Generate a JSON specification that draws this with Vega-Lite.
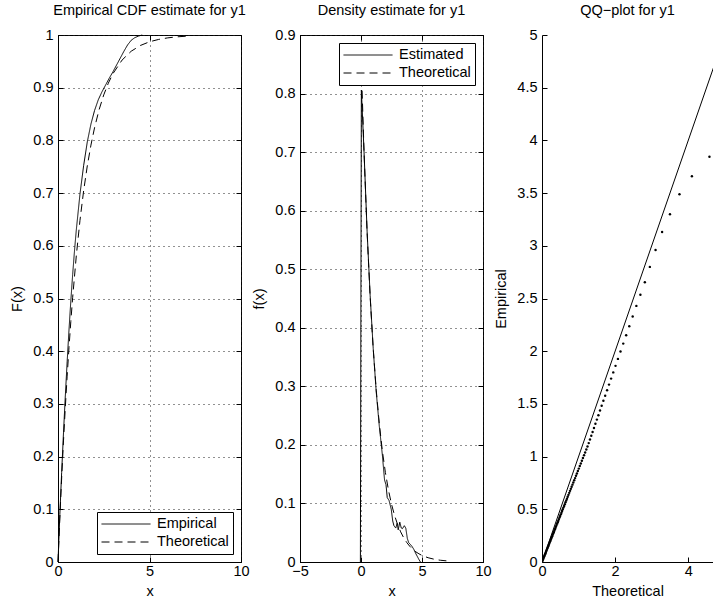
{
  "$schema": "https://vega.github.io/schema/vega-lite/v6.json",
  "padding": {"left": 9, "top": 2, "right": 0, "bottom": 0},
  "background": "white",
  "spacing": 59,
  "bounds": "flush",
  "datasets": {
    "cdf": [
      {"s": "Empirical", "x": 0, "F": 0}, {"s": "Empirical", "x": 0.1, "F": 0.09}, {"s": "Empirical", "x": 0.2, "F": 0.17},
      {"s": "Empirical", "x": 0.3, "F": 0.245}, {"s": "Empirical", "x": 0.4, "F": 0.315}, {"s": "Empirical", "x": 0.5, "F": 0.38},
      {"s": "Empirical", "x": 0.6, "F": 0.44}, {"s": "Empirical", "x": 0.7, "F": 0.495}, {"s": "Empirical", "x": 0.8, "F": 0.545},
      {"s": "Empirical", "x": 0.9, "F": 0.59}, {"s": "Empirical", "x": 1.0, "F": 0.63}, {"s": "Empirical", "x": 1.2, "F": 0.698},
      {"s": "Empirical", "x": 1.4, "F": 0.752}, {"s": "Empirical", "x": 1.6, "F": 0.797}, {"s": "Empirical", "x": 1.8, "F": 0.831},
      {"s": "Empirical", "x": 2.0, "F": 0.857}, {"s": "Empirical", "x": 2.2, "F": 0.877}, {"s": "Empirical", "x": 2.4, "F": 0.892},
      {"s": "Empirical", "x": 2.6, "F": 0.905}, {"s": "Empirical", "x": 2.8, "F": 0.918}, {"s": "Empirical", "x": 3.0, "F": 0.93},
      {"s": "Empirical", "x": 3.2, "F": 0.943}, {"s": "Empirical", "x": 3.4, "F": 0.956}, {"s": "Empirical", "x": 3.6, "F": 0.969},
      {"s": "Empirical", "x": 3.8, "F": 0.981}, {"s": "Empirical", "x": 4.0, "F": 0.99}, {"s": "Empirical", "x": 4.2, "F": 0.995},
      {"s": "Empirical", "x": 4.4, "F": 0.998}, {"s": "Empirical", "x": 4.6, "F": 1.0},
      {"s": "Theoretical", "x": 0, "F": 0}, {"s": "Theoretical", "x": 0.1, "F": 0.0833}, {"s": "Theoretical", "x": 0.2, "F": 0.1597},
      {"s": "Theoretical", "x": 0.3, "F": 0.2297}, {"s": "Theoretical", "x": 0.4, "F": 0.2939}, {"s": "Theoretical", "x": 0.5, "F": 0.3527},
      {"s": "Theoretical", "x": 0.6, "F": 0.4067}, {"s": "Theoretical", "x": 0.7, "F": 0.4561}, {"s": "Theoretical", "x": 0.8, "F": 0.5014},
      {"s": "Theoretical", "x": 1.0, "F": 0.581}, {"s": "Theoretical", "x": 1.2, "F": 0.648}, {"s": "Theoretical", "x": 1.4, "F": 0.7042},
      {"s": "Theoretical", "x": 1.6, "F": 0.7514}, {"s": "Theoretical", "x": 1.8, "F": 0.7911}, {"s": "Theoretical", "x": 2.0, "F": 0.8245},
      {"s": "Theoretical", "x": 2.25, "F": 0.8588}, {"s": "Theoretical", "x": 2.5, "F": 0.8864}, {"s": "Theoretical", "x": 2.75, "F": 0.9086},
      {"s": "Theoretical", "x": 3.0, "F": 0.9265}, {"s": "Theoretical", "x": 3.5, "F": 0.9524}, {"s": "Theoretical", "x": 4.0, "F": 0.9692},
      {"s": "Theoretical", "x": 4.5, "F": 0.9801}, {"s": "Theoretical", "x": 5.0, "F": 0.9871}, {"s": "Theoretical", "x": 5.5, "F": 0.9916},
      {"s": "Theoretical", "x": 6.0, "F": 0.9946}, {"s": "Theoretical", "x": 6.5, "F": 0.9965}, {"s": "Theoretical", "x": 7.0, "F": 0.9977}
    ],
    "dens": [
      {"s": "Estimated", "x": -0.05, "f": 0}, {"s": "Estimated", "x": 0.03, "f": 0.806}, {"s": "Estimated", "x": 0.25, "f": 0.70},
      {"s": "Estimated", "x": 0.5, "f": 0.565}, {"s": "Estimated", "x": 0.75, "f": 0.455}, {"s": "Estimated", "x": 1.0, "f": 0.365},
      {"s": "Estimated", "x": 1.25, "f": 0.29}, {"s": "Estimated", "x": 1.5, "f": 0.232}, {"s": "Estimated", "x": 1.75, "f": 0.183},
      {"s": "Estimated", "x": 1.93, "f": 0.14}, {"s": "Estimated", "x": 2.05, "f": 0.132}, {"s": "Estimated", "x": 2.15, "f": 0.11},
      {"s": "Estimated", "x": 2.3, "f": 0.105}, {"s": "Estimated", "x": 2.48, "f": 0.09}, {"s": "Estimated", "x": 2.6, "f": 0.07},
      {"s": "Estimated", "x": 2.7, "f": 0.062}, {"s": "Estimated", "x": 2.85, "f": 0.058}, {"s": "Estimated", "x": 2.96, "f": 0.066},
      {"s": "Estimated", "x": 3.05, "f": 0.055}, {"s": "Estimated", "x": 3.18, "f": 0.068}, {"s": "Estimated", "x": 3.3, "f": 0.058},
      {"s": "Estimated", "x": 3.4, "f": 0.057}, {"s": "Estimated", "x": 3.55, "f": 0.062}, {"s": "Estimated", "x": 3.67, "f": 0.058},
      {"s": "Estimated", "x": 3.8, "f": 0.04}, {"s": "Estimated", "x": 3.91, "f": 0.033}, {"s": "Estimated", "x": 4.05, "f": 0.03},
      {"s": "Estimated", "x": 4.2, "f": 0.026}, {"s": "Estimated", "x": 4.32, "f": 0.022}, {"s": "Estimated", "x": 4.5, "f": 0.014},
      {"s": "Estimated", "x": 4.73, "f": 0.005}, {"s": "Estimated", "x": 4.87, "f": 0},
      {"s": "Theoretical", "x": 0.09, "f": 0.805}, {"s": "Theoretical", "x": 0.25, "f": 0.70}, {"s": "Theoretical", "x": 0.5, "f": 0.563},
      {"s": "Theoretical", "x": 0.75, "f": 0.453}, {"s": "Theoretical", "x": 1.0, "f": 0.3645}, {"s": "Theoretical", "x": 1.25, "f": 0.2933},
      {"s": "Theoretical", "x": 1.5, "f": 0.236}, {"s": "Theoretical", "x": 1.75, "f": 0.1898}, {"s": "Theoretical", "x": 2.0, "f": 0.1527},
      {"s": "Theoretical", "x": 2.25, "f": 0.1229}, {"s": "Theoretical", "x": 2.5, "f": 0.0988}, {"s": "Theoretical", "x": 2.75, "f": 0.0795},
      {"s": "Theoretical", "x": 3.0, "f": 0.064}, {"s": "Theoretical", "x": 3.25, "f": 0.0515}, {"s": "Theoretical", "x": 3.5, "f": 0.0414},
      {"s": "Theoretical", "x": 3.75, "f": 0.0333}, {"s": "Theoretical", "x": 4.0, "f": 0.0268}, {"s": "Theoretical", "x": 4.25, "f": 0.0216},
      {"s": "Theoretical", "x": 4.5, "f": 0.0173}, {"s": "Theoretical", "x": 4.75, "f": 0.014}, {"s": "Theoretical", "x": 5.0, "f": 0.0112},
      {"s": "Theoretical", "x": 5.5, "f": 0.0073}, {"s": "Theoretical", "x": 6.0, "f": 0.0047}, {"s": "Theoretical", "x": 6.5, "f": 0.003},
      {"s": "Theoretical", "x": 7.0, "f": 0.002}
    ],
    "qqline": [{"t": 0, "e": 0}, {"t": 5, "e": 5}],
    "qq": [
      {"t": 4.58, "e": 3.845}, {"t": 4.10, "e": 3.66}, {"t": 3.76, "e": 3.49}, {"t": 3.50, "e": 3.30}, {"t": 3.285, "e": 3.13},
      {"t": 3.106, "e": 2.96}, {"t": 2.95, "e": 2.80}, {"t": 2.813, "e": 2.655}, {"t": 2.691, "e": 2.535}, {"t": 2.581, "e": 2.43},
      {"t": 2.48, "e": 2.33}, {"t": 2.387, "e": 2.237}, {"t": 2.302, "e": 2.152}, {"t": 2.222, "e": 2.072}, {"t": 2.147, "e": 1.997},
      {"t": 2.077, "e": 1.927}, {"t": 2.011, "e": 1.861}, {"t": 1.949, "e": 1.799}, {"t": 1.89, "e": 1.74}, {"t": 1.833, "e": 1.683},
      {"t": 1.78, "e": 1.63}, {"t": 1.728, "e": 1.578}, {"t": 1.679, "e": 1.529}, {"t": 1.632, "e": 1.482}, {"t": 1.587, "e": 1.437},
      {"t": 1.543, "e": 1.393}, {"t": 1.501, "e": 1.351}, {"t": 1.461, "e": 1.311}, {"t": 1.422, "e": 1.272}, {"t": 1.384, "e": 1.234},
      {"t": 1.348, "e": 1.198}, {"t": 1.312, "e": 1.162}, {"t": 1.278, "e": 1.128}, {"t": 1.244, "e": 1.095}, {"t": 1.212, "e": 1.067},
      {"t": 1.18, "e": 1.038}, {"t": 1.15, "e": 1.012}, {"t": 1.12, "e": 0.986}, {"t": 1.091, "e": 0.96}, {"t": 1.062, "e": 0.935},
      {"t": 1.034, "e": 0.91}, {"t": 1.007, "e": 0.886}, {"t": 0.981, "e": 0.863}, {"t": 0.955, "e": 0.84}, {"t": 0.93, "e": 0.818},
      {"t": 0.905, "e": 0.796}, {"t": 0.881, "e": 0.775}, {"t": 0.857, "e": 0.754}, {"t": 0.834, "e": 0.734}, {"t": 0.811, "e": 0.714},
      {"t": 0.789, "e": 0.694}, {"t": 0.767, "e": 0.675}, {"t": 0.745, "e": 0.656}, {"t": 0.724, "e": 0.637}, {"t": 0.703, "e": 0.619},
      {"t": 0.683, "e": 0.601}, {"t": 0.663, "e": 0.583}, {"t": 0.643, "e": 0.566}, {"t": 0.624, "e": 0.549}, {"t": 0.605, "e": 0.532},
      {"t": 0.586, "e": 0.516}, {"t": 0.568, "e": 0.5}, {"t": 0.549, "e": 0.483}, {"t": 0.532, "e": 0.468}, {"t": 0.514, "e": 0.452},
      {"t": 0.497, "e": 0.437}, {"t": 0.48, "e": 0.422}, {"t": 0.463, "e": 0.407}, {"t": 0.446, "e": 0.392}, {"t": 0.43, "e": 0.378},
      {"t": 0.414, "e": 0.364}, {"t": 0.398, "e": 0.35}, {"t": 0.382, "e": 0.336}, {"t": 0.367, "e": 0.323}, {"t": 0.352, "e": 0.31},
      {"t": 0.337, "e": 0.297}, {"t": 0.322, "e": 0.283}, {"t": 0.307, "e": 0.27}, {"t": 0.293, "e": 0.258}, {"t": 0.278, "e": 0.245},
      {"t": 0.264, "e": 0.232}, {"t": 0.25, "e": 0.22}, {"t": 0.237, "e": 0.209}, {"t": 0.223, "e": 0.196}, {"t": 0.209, "e": 0.184},
      {"t": 0.196, "e": 0.172}, {"t": 0.183, "e": 0.161}, {"t": 0.17, "e": 0.15}, {"t": 0.157, "e": 0.138}, {"t": 0.144, "e": 0.127},
      {"t": 0.132, "e": 0.116}, {"t": 0.119, "e": 0.105}, {"t": 0.107, "e": 0.094}, {"t": 0.095, "e": 0.084}, {"t": 0.083, "e": 0.073},
      {"t": 0.071, "e": 0.062}, {"t": 0.059, "e": 0.052}, {"t": 0.048, "e": 0.042}, {"t": 0.036, "e": 0.032}, {"t": 0.025, "e": 0.022},
      {"t": 0.013, "e": 0.011}, {"t": 0.002, "e": 0.002}
    ]
  },
  "hconcat": [
    {
      "width": 183,
      "height": 527,
      "title": "Empirical CDF estimate for y1",
      "data": {"name": "cdf"},
      "layer": [
        {
          "mark": {"type": "line", "color": "black", "strokeWidth": 1},
          "encoding": {
            "x": {"field": "x", "type": "quantitative", "scale": {"domain": [0, 10], "nice": false, "zero": false},
                  "axis": {"values": [0, 5, 10], "title": "x", "format": ".3~r", "grid": true}},
            "y": {"field": "F", "type": "quantitative", "scale": {"domain": [0, 1], "nice": false},
                  "axis": {"values": [0, 0.1, 0.2, 0.3, 0.4, 0.5, 0.6, 0.7, 0.8, 0.9, 1], "title": "F(x)", "format": ".3~r", "grid": true}},
            "strokeDash": {"field": "s", "type": "nominal",
                           "scale": {"domain": ["Empirical", "Theoretical"], "range": [[1, 0], [8, 5]]},
                           "legend": {"orient": "bottom-right", "title": null}}
          }
        },
        {
          "mark": {"type": "line", "opacity": 0},
          "encoding": {
            "x": {"field": "x", "type": "quantitative", "axis": {"orient": "top", "values": [0, 5, 10], "labels": false, "title": null, "grid": false, "domain": false}},
            "y": {"field": "F", "type": "quantitative", "axis": {"orient": "right", "values": [0, 0.1, 0.2, 0.3, 0.4, 0.5, 0.6, 0.7, 0.8, 0.9, 1], "labels": false, "title": null, "grid": false, "domain": false}}
          }
        }
      ],
      "resolve": {"axis": {"x": "independent", "y": "independent"}}
    },
    {
      "width": 183,
      "height": 527,
      "title": "Density estimate for y1",
      "data": {"name": "dens"},
      "layer": [
        {
          "mark": {"type": "line", "color": "black", "strokeWidth": 1},
          "encoding": {
            "x": {"field": "x", "type": "quantitative", "scale": {"domain": [-5, 10], "nice": false, "zero": false},
                  "axis": {"values": [-5, 0, 5, 10], "title": "x", "format": ".3~r", "grid": true}},
            "y": {"field": "f", "type": "quantitative", "scale": {"domain": [0, 0.9], "nice": false},
                  "axis": {"values": [0, 0.1, 0.2, 0.3, 0.4, 0.5, 0.6, 0.7, 0.8, 0.9], "title": "f(x)", "format": ".3~r", "grid": true}},
            "strokeDash": {"field": "s", "type": "nominal",
                           "scale": {"domain": ["Estimated", "Theoretical"], "range": [[1, 0], [8, 5]]},
                           "legend": {"orient": "top-right", "title": null}}
          }
        },
        {
          "mark": {"type": "line", "opacity": 0},
          "encoding": {
            "x": {"field": "x", "type": "quantitative", "axis": {"orient": "top", "values": [-5, 0, 5, 10], "labels": false, "title": null, "grid": false, "domain": false}},
            "y": {"field": "f", "type": "quantitative", "axis": {"orient": "right", "values": [0, 0.1, 0.2, 0.3, 0.4, 0.5, 0.6, 0.7, 0.8, 0.9], "labels": false, "title": null, "grid": false, "domain": false}}
          }
        }
      ],
      "resolve": {"axis": {"x": "independent", "y": "independent"}}
    },
    {
      "width": 171,
      "height": 527,
      "title": "QQ\u2212plot for y1",
      "view": {"stroke": null},
      "layer": [
        {
          "data": {"name": "qqline"},
          "mark": {"type": "line", "color": "black", "strokeWidth": 1, "clip": true},
          "encoding": {
            "x": {"field": "t", "type": "quantitative", "scale": {"domain": [0, 4.677], "nice": false, "zero": false},
                  "axis": {"values": [0, 2, 4], "title": "Theoretical", "format": ".3~r", "grid": false}},
            "y": {"field": "e", "type": "quantitative", "scale": {"domain": [0, 5], "nice": false},
                  "axis": {"values": [0, 0.5, 1, 1.5, 2, 2.5, 3, 3.5, 4, 4.5, 5], "title": "Empirical", "format": ".3~r", "grid": false}}
          }
        },
        {
          "data": {"name": "qq"},
          "mark": {"type": "point", "filled": true, "color": "black", "size": 6, "opacity": 1, "clip": true},
          "encoding": {
            "x": {"field": "t", "type": "quantitative"},
            "y": {"field": "e", "type": "quantitative"}
          }
        }
      ]
    }
  ],
  "resolve": {"scale": {"strokeDash": "independent"}, "legend": {"strokeDash": "independent"}},
  "config": {
    "font": "Liberation Sans",
    "view": {"stroke": "black", "strokeWidth": 1},
    "axis": {
      "labelFontSize": 14.5, "labelColor": "black", "labelFont": "Liberation Sans",
      "titleFontSize": 14.5, "titleFontWeight": "normal", "titleColor": "black", "titleFont": "Liberation Sans",
      "domainColor": "black", "domainWidth": 1, "tickColor": "black", "tickWidth": 1, "tickSize": -5,
      "labelFlush": false, "labelOverlap": false,
      "gridDash": [1, 4], "gridColor": "#222", "gridOpacity": 1, "gridWidth": 1
    },
    "axisX": {"labelPadding": 7, "titlePadding": 7},
    "axisY": {"labelPadding": 10, "titlePadding": 8},
    "title": {"fontSize": 14.5, "fontWeight": "normal", "color": "black", "font": "Liberation Sans", "offset": 9, "anchor": "middle"},
    "legend": {
      "strokeColor": "black", "fillColor": "white", "padding": 4, "offset": 8,
      "symbolType": "stroke", "symbolSize": 2401, "symbolStrokeColor": "black", "symbolStrokeWidth": 1,
      "clipHeight": 16,
      "labelFontSize": 14.5, "labelColor": "black", "labelFont": "Liberation Sans", "labelOffset": 6, "rowPadding": 2
    }
  }
}
